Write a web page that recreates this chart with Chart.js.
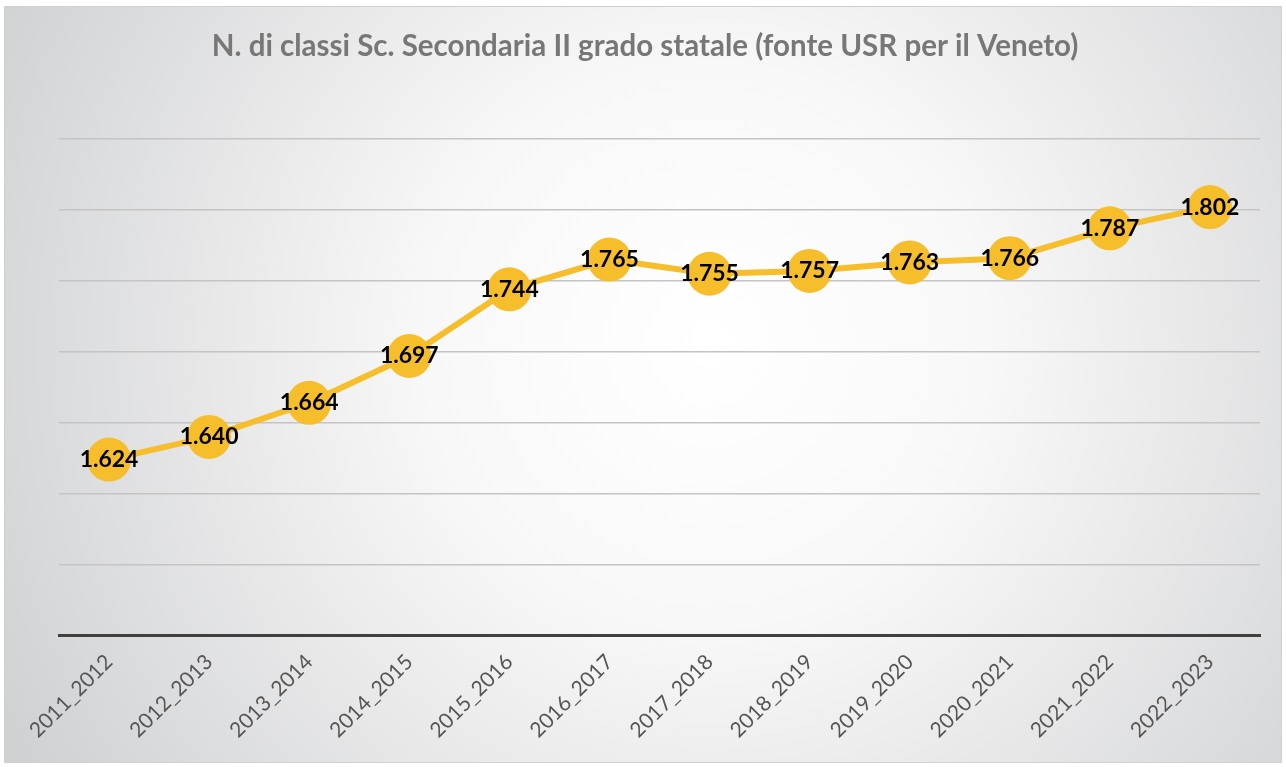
<!DOCTYPE html>
<html>
<head>
<meta charset="utf-8">
<script src="https://cdn.jsdelivr.net/npm/chart.js@4.4.1/dist/chart.umd.min.js"></script>
<style>
html,body{margin:0;padding:0;background:#fff;}
#wrap{width:1286px;height:767px;position:relative;}
</style>
</head>
<body>
<div id="wrap"><canvas id="c" width="1286" height="767"></canvas></div>
<script>
const categories = ["2011_2012","2012_2013","2013_2014","2014_2015","2015_2016","2016_2017","2017_2018","2018_2019","2019_2020","2020_2021","2021_2022","2022_2023"];
const values = [1.624,1.640,1.664,1.697,1.744,1.765,1.755,1.757,1.763,1.766,1.787,1.802];
const valueLabels = ["1.624","1.640","1.664","1.697","1.744","1.765","1.755","1.757","1.763","1.766","1.787","1.802"];
const titleText = "N. di classi Sc. Secondaria II grado statale (fonte USR per il Veneto)";

const bgPlugin = {
  id: 'bg',
  beforeDraw(chart) {
    const ctx = chart.ctx, w = chart.width, h = chart.height;
    ctx.save();
    ctx.fillStyle = '#ffffff';
    ctx.fillRect(0,0,w,h);
    const g = ctx.createRadialGradient(w*0.55, h*0.45, 0, w*0.55, h*0.45, w*0.62);
    g.addColorStop(0, '#ffffff');
    g.addColorStop(0.35, '#f8f8f8');
    g.addColorStop(1, '#d0d1d3');
    ctx.fillStyle = g;
    ctx.fillRect(4,6,w-8,h-10);
    ctx.strokeStyle = '#d0d0d0';
    ctx.lineWidth = 1;
    ctx.strokeRect(4.5,6.5,w-9,h-11);
    ctx.restore();
  }
};

const labelPlugin = {
  id: 'vlabels',
  afterDatasetsDraw(chart) {
    const ctx = chart.ctx;
    const meta = chart.getDatasetMeta(0);
    ctx.save();
    ctx.font = 'bold 23px Lato, "Open Sans", sans-serif';
    ctx.fillStyle = '#000000';
    ctx.textAlign = 'center';
    ctx.textBaseline = 'middle';
    meta.data.forEach((pt, i) => {
      ctx.fillText(valueLabels[i], pt.x, pt.y);
    });
    ctx.restore();
  }
};

const titlePlugin = {
  id: 'ctitle',
  afterDraw(chart) {
    const ctx = chart.ctx;
    ctx.save();
    ctx.font = 'bold 29.5px Lato, "Open Sans", sans-serif';
    ctx.fillStyle = '#777777';
    ctx.textAlign = 'center';
    ctx.textBaseline = 'middle';
    ctx.fillText(titleText, 645, 46);
    ctx.restore();
  }
};

new Chart(document.getElementById('c'), {
  type: 'line',
  data: {
    labels: categories,
    datasets: [{
      data: values,
      borderColor: '#F7BE2C',
      backgroundColor: '#F7BE2C',
      borderWidth: 6,
      pointRadius: 22,
      pointHoverRadius: 22,
      pointBorderWidth: 0,
      tension: 0,
      fill: false
    }]
  },
  options: {
    responsive: false,
    animation: false,
    devicePixelRatio: 1,
    layout: { padding: { left: 59, right: 26, top: 10, bottom: 18 } },
    plugins: {
      legend: { display: false },
      tooltip: { enabled: false },
      title: {
        display: true,
        text: titleText,
        color: 'rgba(0,0,0,0)',
        font: { family: 'Lato, "Open Sans", sans-serif', size: 30, weight: 'bold' },
        padding: { top: 18, bottom: 75 }
      }
    },
    scales: {
      x: {
        offset: true,
        grid: { display: false },
        border: { display: true, color: '#404040', width: 3 },
        ticks: {
          color: '#555555',
          font: { family: 'Lato, "Open Sans", sans-serif', size: 21 },
          maxRotation: 45, minRotation: 45,
          padding: 6
        }
      },
      y: {
        min: 1.5, max: 1.85,
        ticks: { display: false, stepSize: 0.05 },
        border: { display: false },
        grid: { color: '#c4c4c4', lineWidth: 1.5, drawTicks: false }
      }
    }
  },
  plugins: [bgPlugin, labelPlugin, titlePlugin]
});
</script>
</body>
</html>
